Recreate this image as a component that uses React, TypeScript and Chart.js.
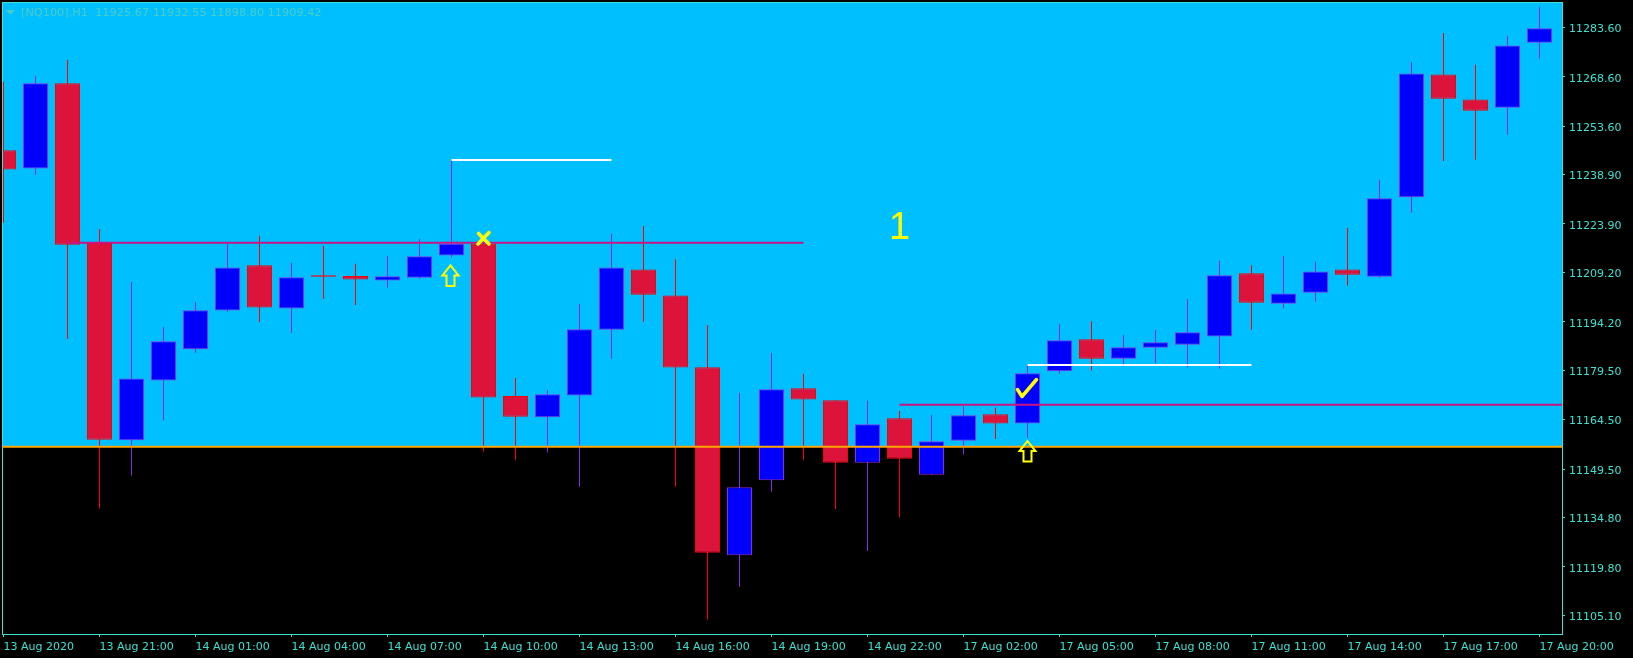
import { useEffect, useRef } from 'react';
import { Chart, registerables } from 'chart.js';

Chart.register(...registerables);

// ---- Candle data (NQ100, H1) ----
const opens = [
  11246.3, 11240.7, 11266.6, 11218.1, 11158.2, 11176.4, 11185.9, 11197.6, 11211.4, 11198.2,
  11208.3, 11208.1, 11206.7, 11207.6, 11214.3, 11217.9, 11171.7, 11165.2, 11171.8, 11191.8,
  11210.1, 11202.2, 11180.4, 11123.3, 11146.1, 11174.0, 11170.4, 11151.4, 11164.9, 11147.8,
  11158.1, 11166.1, 11163.3, 11179.2, 11188.9, 11183.0, 11186.3, 11187.2, 11189.7, 11208.9,
  11199.7, 11203.0, 11210.1, 11207.9, 11232.0, 11269.3, 11261.7, 11259.2, 11278.9,
];
const highs = [
  11267.1, 11268.8, 11273.7, 11222.4, 11206.3, 11192.6, 11200.2, 11218.0, 11220.3, 11212.1,
  11217.2, 11211.8, 11214.2, 11219.3, 11243.2, 11218.2, 11177.1, 11173.5, 11199.6, 11220.9,
  11223.3, 11213.2, 11193.2, 11172.6, 11184.7, 11178.4, 11170.4, 11170.2, 11167.1, 11165.9,
  11168.6, 11168.2, 11181.1, 11193.5, 11194.4, 11190.2, 11191.7, 11201.1, 11212.7, 11211.4,
  11214.2, 11212.4, 11222.7, 11237.3, 11273.1, 11281.9, 11272.2, 11281.0, 11289.8,
];
const lows = [
  11224.3, 11238.9, 11189.0, 11137.5, 11147.5, 11164.2, 11184.8, 11197.2, 11194.1, 11190.8,
  11201.1, 11199.3, 11204.6, 11207.3, 11213.7, 11154.8, 11152.3, 11154.5, 11144.1, 11183.0,
  11194.2, 11144.1, 11103.8, 11113.8, 11142.6, 11152.3, 11137.4, 11124.6, 11134.9, 11147.8,
  11153.9, 11158.6, 11158.9, 11178.4, 11179.4, 11180.6, 11181.7, 11180.3, 11180.0, 11191.8,
  11198.2, 11200.3, 11205.2, 11207.6, 11227.3, 11243.0, 11243.4, 11251.0, 11274.1,
];
const closes = [
  11240.4, 11266.6, 11217.6, 11158.4, 11177.0, 11188.3, 11197.7, 11210.7, 11198.5, 11207.7,
  11207.9, 11207.0, 11208.0, 11214.1, 11217.9, 11171.2, 11165.4, 11172.2, 11191.9, 11210.7,
  11202.4, 11180.3, 11124.1, 11144.0, 11173.7, 11170.6, 11151.4, 11163.1, 11152.6, 11157.9,
  11165.8, 11163.3, 11178.6, 11188.6, 11183.0, 11186.5, 11188.0, 11191.0, 11208.3, 11200.0,
  11202.8, 11209.5, 11208.5, 11231.7, 11269.6, 11261.9, 11258.3, 11278.1, 11283.3,
];

// ---- Axis tick labels ----
const xTickBars = [0, 3, 6, 9, 12, 15, 18, 21, 24, 27, 30, 33, 36, 39, 42, 45, 48];
const xTickLabels = [
  '13 Aug 2020', '13 Aug 21:00', '14 Aug 01:00', '14 Aug 04:00', '14 Aug 07:00', '14 Aug 10:00',
  '14 Aug 13:00', '14 Aug 16:00', '14 Aug 19:00', '14 Aug 22:00', '17 Aug 02:00', '17 Aug 05:00',
  '17 Aug 08:00', '17 Aug 11:00', '17 Aug 14:00', '17 Aug 17:00', '17 Aug 20:00',
];
const yTickValues = [
  11105.1, 11119.8, 11134.8, 11149.5, 11164.5, 11179.5, 11194.2,
  11209.2, 11223.9, 11238.9, 11253.6, 11268.6, 11283.6,
];

// ---- Drawn objects ----
const orangeLevel = 11156.3;
const magentaLevels = [11218.2, 11169.0];
const magentaStarts = [2, 28];
const magentaEnds = [25, 60];
const whiteLevels = [11243.3, 11181.1];
const whiteStarts = [14, 32];
const whiteEnds = [19, 39];
const upArrowBars = [14, 32];
const upArrowTops = [11211.6, 11158.3];
const crossBar = 15;
const crossPrice = 11219.5;
const checkBar = 32;
const checkPrice = 11174.1;
const textBar = 28;
const textPrice = 11219.2;
const textValue = '1';
const headerText = '[NQ100],H1  11925.67 11932.55 11898.80 11909.42';

const BULL_FILL = '#0000FF';
const BULL_EDGE = '#8A2BE2';
const BEAR_FILL = '#DC143C';
const BEAR_EDGE = '#FF0000';
const TEAL = '#40E0D0';
const SKY = '#00BFFF';
const MAGENTA = '#C71585';
const YELLOW = '#FFFF00';

export default function App() {
  const ref = useRef<HTMLCanvasElement>(null);

  useEffect(() => {
    document.body.style.margin = '0';
    document.body.style.background = '#000';
    const canvas = ref.current!;
    const idx = opens.map((_, i) => i);
    const bull = idx.map((i) => closes[i] >= opens[i]);
    const fills = bull.map((b) => (b ? BULL_FILL : BEAR_FILL));
    const edges = bull.map((b) => (b ? BULL_EDGE : BEAR_EDGE));

    const segment = (x0: number, x1: number, y: number, color: string, order: number) => ({
      type: 'line' as const,
      data: [{ x: x0, y }, { x: x1, y }],
      borderColor: color,
      borderWidth: 2,
      pointRadius: 0,
      tension: 0,
      order,
      borderCapStyle: 'butt' as const,
    });

    const backdrop = {
      id: 'backdrop',
      beforeDraw(c: any) {
        const { ctx, chartArea: a, scales } = c;
        ctx.save();
        ctx.fillStyle = '#000';
        ctx.fillRect(0, 0, c.width, c.height);
        const yl = scales.y.getPixelForValue(orangeLevel);
        ctx.fillStyle = SKY;
        ctx.fillRect(a.left, a.top, a.right - a.left, yl - a.top);
        ctx.restore();
      },
      afterDatasetsDraw(c: any) {
        const { ctx, scales } = c;
        const xs = scales.x;
        const ys = scales.y;
        ctx.save();
        ctx.strokeStyle = YELLOW;
        ctx.fillStyle = YELLOW;
        // up arrows
        upArrowBars.forEach((b, k) => {
          const x = Math.round(xs.getPixelForValue(b)) - 0.5;
          const t = ys.getPixelForValue(upArrowTops[k]);
          ctx.beginPath();
          ctx.moveTo(x, t + 1);
          ctx.lineTo(x + 8, t + 11);
          ctx.lineTo(x + 4, t + 11);
          ctx.lineTo(x + 4, t + 21.5);
          ctx.lineTo(x - 4, t + 21.5);
          ctx.lineTo(x - 4, t + 11);
          ctx.lineTo(x - 8, t + 11);
          ctx.closePath();
          ctx.lineWidth = 2;
          ctx.lineJoin = 'miter';
          ctx.stroke();
        });
        // cross mark
        {
          const x = xs.getPixelForValue(crossBar);
          const y = ys.getPixelForValue(crossPrice);
          ctx.lineWidth = 3.5;
          ctx.lineCap = 'round';
          ctx.beginPath();
          ctx.moveTo(x - 5, y - 5);
          ctx.lineTo(x + 5.5, y + 5.5);
          ctx.moveTo(x + 5.5, y - 6);
          ctx.lineTo(x - 5.5, y + 5.5);
          ctx.stroke();
        }
        // check mark
        {
          const x = xs.getPixelForValue(checkBar) - 0.5;
          const y = ys.getPixelForValue(checkPrice);
          ctx.lineWidth = 3.5;
          ctx.lineCap = 'round';
          ctx.lineJoin = 'round';
          ctx.beginPath();
          ctx.moveTo(x - 9.5, y + 1.5);
          ctx.lineTo(x - 5, y + 8.5);
          ctx.lineTo(x + 9.5, y - 8.5);
          ctx.stroke();
        }
        // text label
        {
          const x = xs.getPixelForValue(textBar);
          const y = ys.getPixelForValue(textPrice);
          ctx.font = '38px "Liberation Sans", Arial, sans-serif';
          ctx.textAlign = 'center';
          ctx.textBaseline = 'alphabetic';
          ctx.fillText(textValue, x, y);
        }
        ctx.restore();
      },
      afterDraw(c: any) {
        const { ctx, chartArea: a } = c;
        ctx.save();
        ctx.strokeStyle = TEAL;
        ctx.lineWidth = 1;
        ctx.strokeRect(a.left + 0.5, a.top + 0.5, a.right - a.left, a.bottom - a.top);
        // header
        ctx.fillStyle = '#4CCCC6';
        ctx.beginPath();
        ctx.moveTo(6, 10);
        ctx.lineTo(15, 10);
        ctx.lineTo(10.5, 14.5);
        ctx.closePath();
        ctx.fill();
        ctx.font = '11.3px "DejaVu Sans", sans-serif';
        ctx.textAlign = 'left';
        ctx.textBaseline = 'middle';
        ctx.fillText(headerText, 21, 13);
        ctx.restore();
      },
    };

    const datasets: any[] = [
      {
        type: 'bar',
        data: idx.map((i) => ({ x: i, y: [lows[i], highs[i]] })),
        backgroundColor: edges,
        borderWidth: 0,
        barThickness: 1,
        grouped: false,
        inflateAmount: 0,
        order: 3,
      },
      {
        type: 'bar',
        data: idx.map((i) => ({ x: i, y: [opens[i], closes[i]] })),
        backgroundColor: fills,
        borderColor: edges,
        borderWidth: 1,
        borderSkipped: false,
        barThickness: 25,
        grouped: false,
        inflateAmount: 0,
        order: 2,
      },
      segment(-2, 60, orangeLevel, '#FFA500', 1),
      ...magentaLevels.map((v, k) => segment(magentaStarts[k], magentaEnds[k], v, MAGENTA, 1)),
      ...whiteLevels.map((v, k) => segment(whiteStarts[k], whiteEnds[k], v, '#FFFFFF', 1)),
    ];

    const chart = new Chart(canvas, {
      type: 'bar',
      data: { datasets },
      plugins: [backdrop],
      options: {
        animation: false,
        responsive: false,
        maintainAspectRatio: false,
        events: [],
        layout: { padding: { left: 2, top: 2, right: 0, bottom: 0 } },
        plugins: { legend: { display: false }, tooltip: { enabled: false } },
        scales: {
          x: {
            type: 'linear',
            min: (2 - 3.5) / 32,
            max: (1562 - 3.5) / 32,
            offset: false,
            grid: { display: true, offset: false, drawOnChartArea: false, drawTicks: true, tickLength: 3, color: TEAL },
            border: { display: false },
            ticks: {
              autoSkip: false,
              maxRotation: 0,
              minRotation: 0,
              align: 'start',
              padding: 4,
              color: TEAL,
              font: { family: '"DejaVu Sans", sans-serif', size: 11 },
              callback: (v: any) => {
                const k = xTickBars.indexOf(Math.round(Number(v)));
                return k >= 0 ? xTickLabels[k] : '';
              },
            },
            afterBuildTicks: (s: any) => {
              s.ticks = xTickBars.map((v) => ({ value: v }));
            },
            afterFit: (s: any) => {
              s.height = 24;
              s.paddingLeft = 0;
              s.paddingRight = 0;
              s.paddingTop = 0;
              s.paddingBottom = 0;
            },
          },
          y: {
            type: 'linear',
            position: 'right',
            min: 11099.42,
            max: 11291.28,
            grid: { display: true, drawOnChartArea: false, drawTicks: true, tickLength: 3, color: TEAL },
            border: { display: false },
            ticks: {
              autoSkip: false,
              padding: 4,
              labelOffset: 2,
              color: TEAL,
              crossAlign: 'near',
              font: { family: '"DejaVu Sans", sans-serif', size: 11 },
              callback: (v: any) => Number(v).toFixed(2),
            },
            afterBuildTicks: (s: any) => {
              s.ticks = yTickValues.map((v) => ({ value: v }));
            },
            afterFit: (s: any) => {
              s.width = 71;
              s.paddingLeft = 0;
              s.paddingRight = 0;
              s.paddingTop = 0;
              s.paddingBottom = 0;
            },
          },
        },
      } as any,
    });
    return () => chart.destroy();
  }, []);

  return (
    <div style={{ position: 'fixed', left: 0, top: 0, width: 1633, height: 658, background: '#000' }}>
      <canvas ref={ref} width={1633} height={658} style={{ display: 'block', width: 1633, height: 658 }} />
    </div>
  );
}
